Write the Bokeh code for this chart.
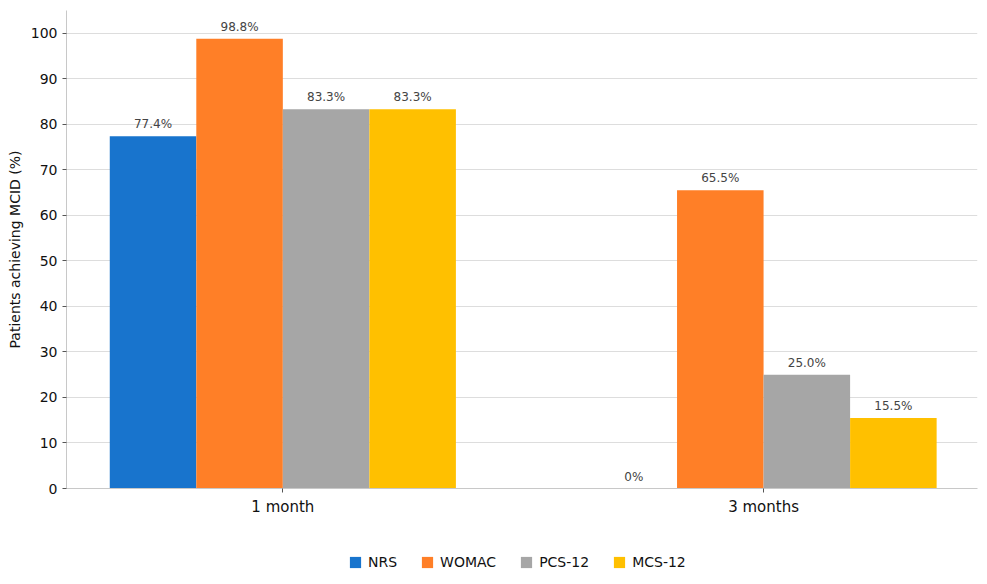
from bokeh.plotting import figure
from bokeh.layouts import column
from bokeh.models import ColumnDataSource, Legend, LegendItem, FixedTicker, Range1d, LabelSet
from bokeh.core.properties import value
from bokeh.embed import file_html
from bokeh.resources import INLINE

groups = ["1 month", "3 months"]
series = ["NRS", "WOMAC", "PCS-12", "MCS-12"]
nrs = [77.4, 0.0]
womac = [98.8, 65.5]
pcs12 = [83.3, 25.0]
mcs12 = [83.3, 15.5]
colors = ["#1874cd", "#ff7f27", "#a6a6a6", "#ffc000"]
y_ticks = [0, 10, 20, 30, 40, 50, 60, 70, 80, 90, 100]

values = [nrs, womac, pcs12, mcs12]
width = 0.18
offsets = [-1.5 * width, -0.5 * width, 0.5 * width, 1.5 * width]

p = figure(frame_width=911, frame_height=478, output_backend="svg", toolbar_location=None,
           x_range=Range1d(-0.45, 1.445), y_range=Range1d(0, 105),
           min_border_left=66, min_border_top=10, min_border_right=10, min_border_bottom=0)
p.outline_line_color = None
p.background_fill_color = "white"

# small strip below the chart that carries the legend
leg = figure(frame_width=987, frame_height=66, output_backend="svg", toolbar_location=None,
             x_range=Range1d(-0.45, 1.445), y_range=Range1d(200, 300),
             x_axis_type=None, y_axis_type=None,
             min_border_left=0, min_border_right=0, min_border_top=0, min_border_bottom=0)
leg.outline_line_color = None

items = []
for name, vals, off, col in zip(series, values, offsets, colors):
    xs = [i + off for i in range(len(groups))]
    labels = [("0%" if v == 0 else f"{v:.1f}%") for v in vals]
    src = ColumnDataSource(dict(x=xs, top=vals, label=labels))
    p.vbar(x="x", top="top", width=width, source=src, fill_color=col, line_color=None)
    r2 = leg.vbar(x="x", top="top", width=width, source=src, fill_color=col, line_color=None)
    items.append(LegendItem(label=name, renderers=[r2]))
    p.add_layout(LabelSet(x="x", y="top", text="label", source=src, text_align="center",
                          text_baseline="bottom", y_offset=5, text_font_size="12px",
                          text_color="#444444",
                          text_font=value("DejaVu Sans")))

p.xaxis.ticker = FixedTicker(ticks=[0, 1])
p.xaxis.major_label_overrides = {0: groups[0], 1: groups[1]}
p.xaxis.major_label_text_font_size = "15px"
p.xaxis.major_label_text_font = "DejaVu Sans"
p.xaxis.major_label_text_color = "#111111"
p.xaxis.minor_tick_line_color = None
p.xaxis.major_tick_in = 0
p.xaxis.major_tick_out = 4
p.xaxis.axis_line_color = "#c8c8c8"
p.xaxis.major_tick_line_color = "#555555"

p.yaxis.ticker = FixedTicker(ticks=y_ticks)
p.yaxis.axis_label = "Patients achieving MCID (%)"
p.yaxis.axis_label_text_font = "DejaVu Sans"
p.yaxis.axis_label_text_font_style = "normal"
p.yaxis.axis_label_text_font_size = "14px"
p.yaxis.axis_label_text_color = "#111111"
p.yaxis.major_label_text_font_size = "14px"
p.yaxis.major_label_text_font = "DejaVu Sans"
p.yaxis.major_label_text_color = "#111111"
p.yaxis.minor_tick_line_color = None
p.yaxis.major_tick_in = 0
p.yaxis.major_tick_out = 4
p.yaxis.axis_line_color = "#c8c8c8"
p.yaxis.major_tick_line_color = "#555555"

p.xgrid.grid_line_color = None
p.ygrid.grid_line_color = "#dddddd"

legend = Legend(items=items, orientation="horizontal", location=(348, 14), nrows=1,
                label_text_font="DejaVu Sans", label_text_font_size="14px",
                label_text_color="#111111", glyph_width=14, glyph_height=14,
                spacing=23, label_standoff=6, border_line_color=None,
                background_fill_alpha=0, margin=0, padding=4)
leg.add_layout(legend)

layout = column(p, leg, spacing=0)
open("out.html", "w").write(file_html(layout, INLINE))
